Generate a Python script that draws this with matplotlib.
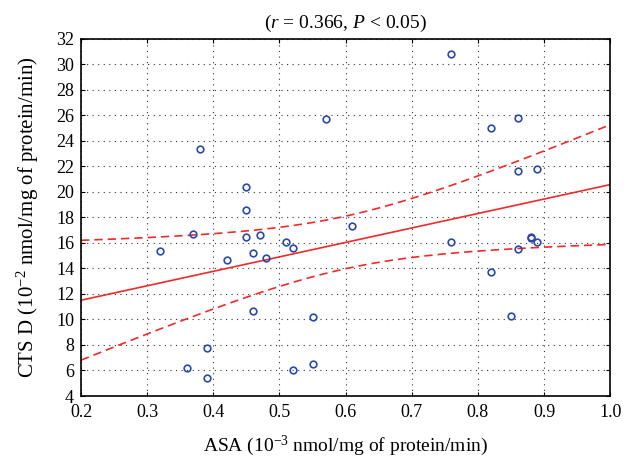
import numpy as np
import matplotlib
matplotlib.use("Agg")
import matplotlib.pyplot as plt

asa = [0.45, 0.45, 0.38, 0.57, 0.76, 0.86, 0.82, 0.86, 0.89, 0.61,
       0.37, 0.45, 0.47, 0.32, 0.46, 0.42, 0.48, 0.51, 0.52, 0.46,
       0.55, 0.39, 0.36, 0.39, 0.52, 0.55, 0.76, 0.88, 0.88, 0.89,
       0.86, 0.82, 0.85]
cts = [20.4, 18.6, 23.4, 25.7, 30.8, 25.8, 25.0, 21.6, 21.8, 17.3,
       16.7, 16.5, 16.6, 15.4, 15.2, 14.7, 14.8, 16.1, 15.6, 10.7,
       10.2, 7.8, 6.2, 5.4, 6.0, 6.5, 16.1, 16.4, 16.5, 16.1,
       15.5, 13.7, 10.3]
x_ticks = [0.2, 0.3, 0.4, 0.5, 0.6, 0.7, 0.8, 0.9, 1.0]
x_tick_labels = ['0.2', '0.3', '0.4', '0.5', '0.6', '0.7', '0.8', '0.9', '1.0']
y_ticks = list(range(4, 33, 2))

x = np.array(asa)
y = np.array(cts)
n = len(x)
b, a = np.polyfit(x, y, 1)
xs = np.linspace(0.2, 1.0, 200)
yfit = a + b * xs
res = y - (a + b * x)
s = np.sqrt(np.sum(res ** 2) / (n - 2))
sxx = np.sum((x - x.mean()) ** 2)
t = 2.037
se = s * np.sqrt(1.0 / n + (xs - x.mean()) ** 2 / sxx)

plt.rcParams['font.family'] = ['Liberation Serif', 'DejaVu Serif']
plt.rcParams['mathtext.fontset'] = 'custom'
plt.rcParams['mathtext.rm'] = 'Liberation Serif'
plt.rcParams['mathtext.it'] = 'Liberation Serif:italic'

fig = plt.figure(figsize=(6.33, 4.63), dpi=100)
ax = fig.add_axes([0.128, 0.1447, 0.836, 0.7715])
red = '#ee2a2a'
ax.plot(xs, yfit, color=red, lw=1.2)
ax.plot(xs, yfit + t * se, color=red, lw=1.2, ls=(0, (5, 3)))
ax.plot(xs, yfit - t * se, color=red, lw=1.2, ls=(0, (5, 3)))
ax.plot(x, y, 'o', ms=4.8, mfc='none', mec='#2a4aa8', mew=1.2)

ax.set_xlim(0.2, 1.0)
ax.set_ylim(4, 32)
ax.set_xticks(x_ticks)
ax.set_xticklabels(x_tick_labels)
ax.set_yticks(y_ticks)
ax.tick_params(direction='in', length=3, labelsize=13, top=True, right=True)
ax.tick_params(axis='x', pad=6)
ax.tick_params(axis='y', pad=5)
ax.grid(True, color='#333333', ls=(0, (1, 4)), lw=0.8)
for sp in ax.spines.values():
    sp.set_linewidth(1.2)
ax.set_xlabel('ASA (10$^{-3}$ nmol/mg of protein/min)', fontsize=14, labelpad=9)
ax.set_ylabel('CTS D (10$^{-2}$ nmol/mg of protein/min)', fontsize=15, labelpad=11)
ax.set_title('($r$ = 0.366, $P$ < 0.05)', fontsize=14, pad=8)
fig.savefig('out.png', dpi=100)
